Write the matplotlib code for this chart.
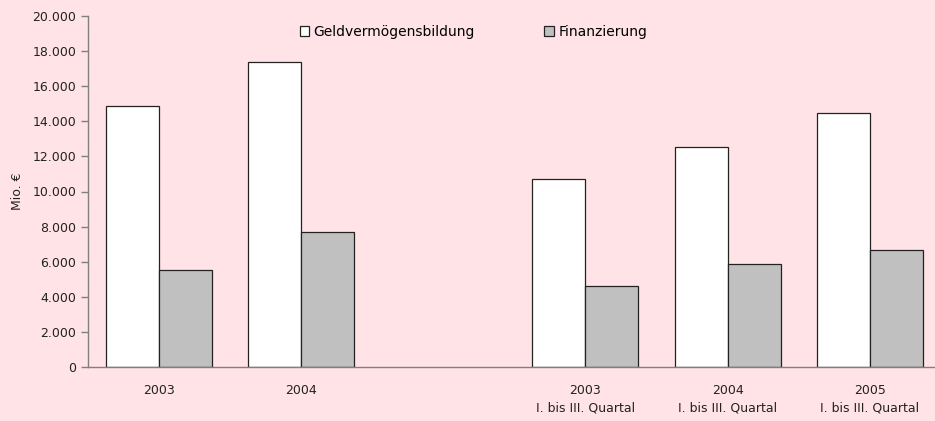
import numpy as np
import matplotlib.pyplot as plt
from matplotlib.ticker import FuncFormatter

# Daten (Mio. EUR)
categories = ["2003", "2004", "", "2003\nI. bis III. Quartal",
              "2004\nI. bis III. Quartal", "2005\nI. bis III. Quartal"]
geldvermoegen = [14900, 17380, np.nan, 10710, 12520, 14490]
finanzierung = [5540, 7670, np.nan, 4610, 5870, 6650]
series_names = ["Geldvermögensbildung", "Finanzierung"]

bg = "#FFE3E6"
plt.rcParams['font.family'] = ['DejaVu Sans']

fig = plt.figure(figsize=(9.35, 4.21), dpi=100, facecolor=bg)
ax = fig.add_axes([88/935, 1 - 367/421, 1 - 88/935, (367 - 16)/421], facecolor=bg)

x = np.arange(len(categories))
w = 0.373
ax.bar(x - w/2, geldvermoegen, w, color="white", edgecolor="#222222", linewidth=0.9,
       label=series_names[0])
ax.bar(x + w/2, finanzierung, w, color="#C0C0C0", edgecolor="#222222", linewidth=0.9,
       label=series_names[1])

ax.set_xlim(-0.5, 5.46)
ax.set_ylim(0, 20000)
ax.set_yticks(np.arange(0, 20001, 2000))
ax.yaxis.set_major_formatter(FuncFormatter(lambda v, p: f"{int(v):,}".replace(",", ".")))
ax.set_xticks([0, 1, 3, 4, 5])
ax.set_xticklabels([categories[i] for i in [0, 1, 3, 4, 5]], linespacing=1.5)
ax.tick_params(axis='x', length=0, pad=12, labelsize=9, colors="#222222")
ax.tick_params(axis='y', length=5, width=1, direction='out', labelsize=9,
               colors="#808080", labelcolor="#222222")

for s in ["top", "right"]:
    ax.spines[s].set_visible(False)
for s in ["left", "bottom"]:
    ax.spines[s].set_color("#808080")
    ax.spines[s].set_linewidth(1)

ax.set_ylabel("Mio. €", fontsize=9, color="#222222", labelpad=6)

ax.legend(loc="upper center", bbox_to_anchor=(0.455, 1.01), ncol=2, frameon=False,
          fontsize=10, handlelength=0.7, handleheight=0.7, handletextpad=0.3,
          columnspacing=5.0)

fig.savefig("out.png", dpi=100, facecolor=bg)
